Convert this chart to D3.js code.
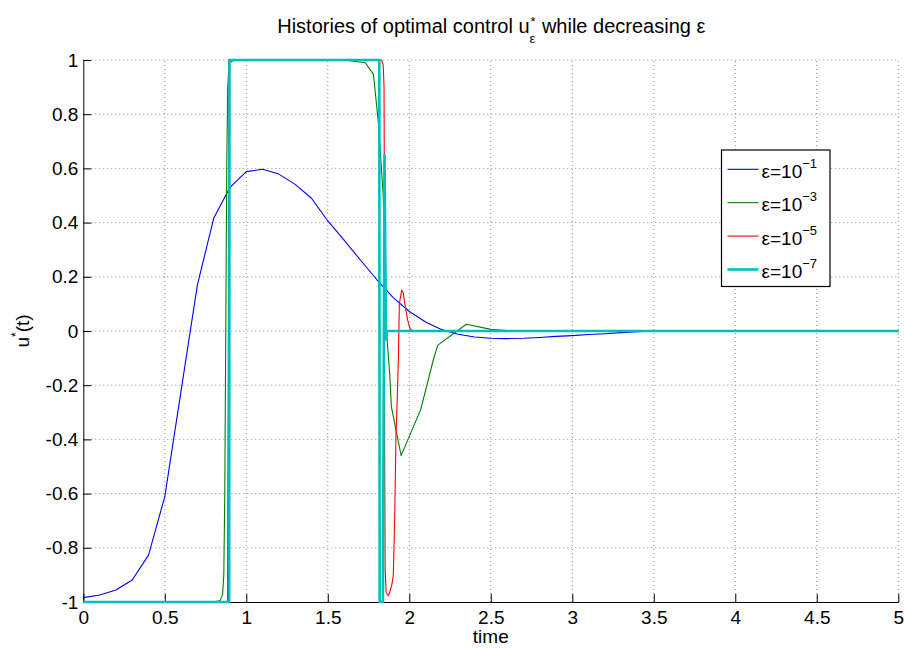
<!DOCTYPE html>
<meta charset="utf-8">
<html>
<head>
  <title>Histories of optimal control</title>
  <style>
    body { margin: 0; background: #fff; }
    svg { width: 904px; height: 648px; display: block; }
    text { font-family: Helvetica, Arial, 'Liberation Sans', sans-serif; fill: #000; white-space: pre; }
    .line { fill: none; stroke-linejoin: round; }
    .grid line { stroke: #8a8a8a; stroke-width: 1; stroke-dasharray: 1,3; }
    .axis path, .axis line { stroke: #000; }
  </style>
  <script src="https://d3js.org/d3.v7.min.js"></script>
</head>
<body>
  <svg></svg>
  <script>
    // tick values and labels
    var xTicks = [0, 0.5, 1, 1.5, 2, 2.5, 3, 3.5, 4, 4.5, 5];
    var xTickLabels = ["0", "0.5", "1", "1.5", "2", "2.5", "3", "3.5", "4", "4.5", "5"];
    var yTicks = [-1, -0.8, -0.6, -0.4, -0.2, 0, 0.2, 0.4, 0.6, 0.8, 1];
    var yTickLabels = ["-1", "-0.8", "-0.6", "-0.4", "-0.2", "0", "0.2", "0.4", "0.6", "0.8", "1"];

    // eps = 1e-1
    var tBlue = [0, 0.1, 0.2, 0.3, 0.4, 0.5, 0.6, 0.7, 0.8, 0.9, 1.0, 1.1, 1.2, 1.3, 1.4, 1.5,
                 1.6, 1.7, 1.8, 1.9, 2.0, 2.1, 2.2, 2.3, 2.4, 2.5, 2.6, 2.7, 2.8, 2.9, 3.0,
                 3.1, 3.2, 3.3, 3.4, 3.5, 5];
    var uBlue = [-0.984, -0.974, -0.956, -0.919, -0.827, -0.611, -0.22, 0.17, 0.416, 0.53, 0.588,
                 0.597, 0.579, 0.541, 0.49, 0.406, 0.335, 0.262, 0.19, 0.124, 0.072, 0.033,
                 0.005, -0.012, -0.022, -0.027, -0.028, -0.027, -0.024, -0.02, -0.017,
                 -0.013, -0.01, -0.006, -0.003, 0, 0];

    // eps = 1e-3
    var tGreen = [0, 0.8, 0.84, 0.855, 0.862, 0.868, 0.874, 0.88, 0.886, 0.895, 0.93, 1.6,
                  1.73, 1.78, 1.81, 1.84, 1.855, 1.862, 1.88, 1.89, 1.95, 2.07, 2.147, 2.175,
                  2.35, 2.5, 2.6, 2.7, 5];
    var uGreen = [-1, -1, -0.995, -0.97, -0.9, -0.6, 0, 0.6, 0.9, 0.99, 1, 1,
                  0.99, 0.947, 0.77, 0.5, 0.1, -0.02, -0.16, -0.28, -0.46, -0.29, -0.107, -0.052,
                  0.025, 0.006, 0.002, 0, 0];

    // eps = 1e-5
    var tRed = [0, 0.885, 0.895, 1.83, 1.84, 1.845, 1.847, 1.849, 1.852, 1.858, 1.871, 1.88,
                1.895, 1.902, 1.91, 1.918, 1.926, 1.933, 1.939, 1.953, 1.963, 1.975, 1.99,
                2.004, 2.025, 2.06, 5];
    var uRed = [-1, -1, 1, 1, 0.98, 0.9, 0.5, -0.5, -0.88, -0.965, -0.977, -0.965,
                -0.93, -0.9, -0.7, -0.39, -0.25, -0.1, 0.1, 0.151, 0.14, 0.09, 0.04,
                0.01, -0.003, 0, 0];

    // eps = 1e-7
    var tCyan = [0, 0.895, 0.897, 1.816, 1.818, 1.838, 1.848, 1.857, 1.862, 5];
    var uCyan = [-1, -1, 1, 1, -1, -1, 0.65, -0.03, 0, 0];

    var seriesNames = ["ε=10", "ε=10", "ε=10", "ε=10"];
    var seriesExp = ["−1", "−3", "−5", "−7"];
    var seriesColors = ["#0000ff", "#008000", "#ff0000", "#00bfbf"];
    var seriesWidths = [1.1, 1.1, 1.1, 2.6];

    var series = [[tBlue, uBlue], [tGreen, uGreen], [tRed, uRed], [tCyan, uCyan]].map(function(s, i) {
      return {
        name: seriesNames[i], exp: seriesExp[i], color: seriesColors[i], width: seriesWidths[i],
        values: s[0].map(function(t, j) { return {t: t, u: s[1][j]}; })
      };
    });

    var svg = d3.select("svg");
    var plotLeft = 83.3, plotRight = 898.3, plotTop = 60, plotBottom = 602;

    var x = d3.scaleLinear().domain([0, 5]).range([plotLeft, plotRight]);
    var y = d3.scaleLinear().domain([-1, 1]).range([plotBottom, plotTop]);

    // dotted grid
    var grid = svg.append("g").attr("class", "grid");
    grid.selectAll(".gx").data(xTicks.slice(1)).enter().append("line")
      .attr("x1", function(d) { return x(d); }).attr("x2", function(d) { return x(d); })
      .attr("y1", plotBottom).attr("y2", plotTop);
    grid.selectAll(".gy").data(yTicks.slice(1)).enter().append("line")
      .attr("y1", function(d) { return y(d); }).attr("y2", function(d) { return y(d); })
      .attr("x1", plotLeft).attr("x2", plotRight);

    // axes, ticks point inward
    svg.append("g").attr("class", "axis")
      .attr("transform", "translate(0," + plotBottom + ")")
      .call(d3.axisBottom(x).tickValues(xTicks).tickSizeInner(-8).tickSizeOuter(0).tickPadding(9)
        .tickFormat(function(d, i) { return xTickLabels[i]; }))
      .call(function(g) { g.selectAll("text").attr("font-size", 19).attr("font-family", null); });

    svg.append("g").attr("class", "axis")
      .attr("transform", "translate(" + plotLeft + ",0)")
      .call(d3.axisLeft(y).tickValues(yTicks).tickSizeInner(-8).tickSizeOuter(0).tickPadding(5)
        .tickFormat(function(d, i) { return yTickLabels[i]; }))
      .call(function(g) { g.selectAll("text").attr("font-size", 19).attr("font-family", null); });

    // lines
    var line = d3.line()
      .x(function(d) { return x(d.t); })
      .y(function(d) { return y(d.u); });

    svg.selectAll(".line").data(series).enter().append("path")
      .attr("class", "line")
      .attr("d", function(d) { return line(d.values); })
      .style("stroke", function(d) { return d.color; })
      .style("stroke-width", function(d) { return d.width; });

    // title with stacked sub/superscript
    var tg = svg.append("g");
    var t1 = tg.append("text").attr("y", 33).attr("font-size", 20).text("Histories of optimal control u");
    var w1 = t1.node().getComputedTextLength();
    var tSup = tg.append("text").attr("y", 26).attr("font-size", 13).text("*");
    var tSub = tg.append("text").attr("y", 43).attr("font-size", 13).text("ε");
    var wS = Math.max(tSup.node().getComputedTextLength(), tSub.node().getComputedTextLength());
    var t3 = tg.append("text").attr("y", 33).attr("font-size", 20).text(" while decreasing ε");
    var w3 = t3.node().getComputedTextLength();
    var x0 = (plotLeft + plotRight) / 2 - (w1 + wS + w3) / 2;
    t1.attr("x", x0);
    tSup.attr("x", x0 + w1 + 1);
    tSub.attr("x", x0 + w1);
    t3.attr("x", x0 + w1 + wS + 1);

    // axis labels
    svg.append("text")
      .attr("x", (plotLeft + plotRight) / 2).attr("y", 643)
      .attr("text-anchor", "middle").attr("font-size", 19)
      .text("time");

    var yl = svg.append("text")
      .attr("transform", "translate(29," + (plotTop + plotBottom) / 2 + ") rotate(-90)")
      .attr("text-anchor", "middle").attr("font-size", 19);
    yl.append("tspan").text("u");
    yl.append("tspan").attr("font-size", 12).attr("dy", -9).text("*");
    yl.append("tspan").attr("dy", 9).text("(t)");

    // legend
    var lg = svg.append("g").attr("transform", "translate(721.5,150)");
    lg.append("rect").attr("width", 108.5).attr("height", 136.5)
      .attr("fill", "#fff").attr("stroke", "#000").attr("stroke-width", 1.2);
    var item = lg.selectAll(".item").data(series).enter().append("g")
      .attr("transform", function(d, i) { return "translate(0," + (19.3 + i * 33.4) + ")"; });
    item.append("line")
      .attr("x1", 6).attr("x2", 37)
      .attr("stroke", function(d) { return d.color; })
      .attr("stroke-width", function(d) { return d.width; });
    var lt = item.append("text").attr("x", 40).attr("y", 8.5).attr("font-size", 19);
    lt.append("tspan").text(function(d) { return d.name; });
    lt.append("tspan").attr("font-size", 13).attr("dy", -10).text(function(d) { return d.exp; });
  </script>
</body>
</html>
